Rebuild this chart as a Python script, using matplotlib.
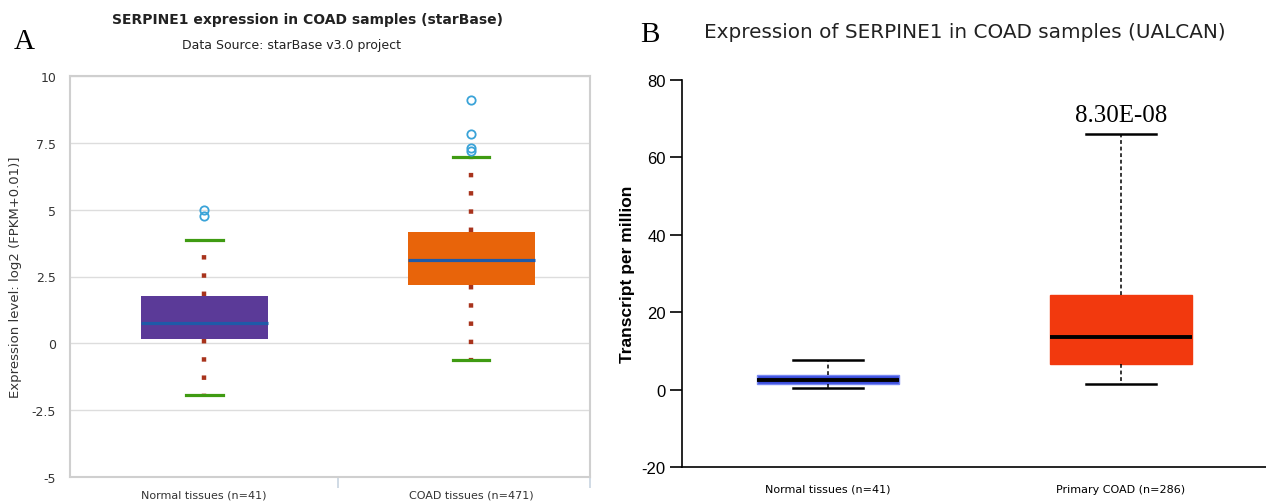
import matplotlib.pyplot as plt

plt.rcParams["axes.unicode_minus"] = False

# panel A: starBase, log2(FPKM+0.01)
a_labels = ["Normal tissues (n=41)", "COAD tissues (n=471)"]
a_q1 = [0.17, 2.19]
a_med = [0.75, 3.1]
a_q3 = [1.76, 4.18]
a_lo = [-1.93, -0.62]
a_hi = [3.88, 6.97]
a_out = [[4.77, 4.98], [7.2, 7.3, 7.84, 9.1]]
a_yticks = [-5, -2.5, 0, 2.5, 5, 7.5, 10]

# panel B: UALCAN, transcripts per million
b_labels = ["Normal tissues (n=41)", "Primary COAD (n=286)"]
b_q1 = [1.55, 6.7]
b_med = [2.6, 13.7]
b_q3 = [3.9, 24.5]
b_lo = [0.45, 1.4]
b_hi = [7.6, 65.9]
b_pval = "8.30E-08"
b_yticks = [-20, 0, 20, 40, 60, 80]


def make_stats(q1, med, q3, lo, hi, out=None):
    st = []
    for i in range(len(med)):
        st.append(dict(q1=q1[i], med=med[i], q3=q3[i], whislo=lo[i], whishi=hi[i],
                       fliers=out[i] if out else []))
    return st


W, H = 1266, 502
fig = plt.figure(figsize=(W / 100, H / 100), dpi=100)

# ---------------- A ----------------
axA = fig.add_axes([70 / W, 1 - 478 / H, 520 / W, 401 / H])
bp = axA.bxp(make_stats(a_q1, a_med, a_q3, a_lo, a_hi, a_out), positions=[0, 1],
             widths=0.476, capwidths=0.1375, patch_artist=True,
             boxprops=dict(linewidth=0),
             whiskerprops=dict(color="#a8331c", linewidth=3.2, linestyle=(0, (1, 3.1))),
             capprops=dict(color="#3f9b12", linewidth=2.3),
             medianprops=dict(color="#1f5aa8", linewidth=2.3),
             flierprops=dict(marker="o", markerfacecolor="none", markeredgecolor="#3aa3d8",
                             markersize=6, markeredgewidth=1.3))
for box, c in zip(bp["boxes"], ["#5b3a98", "#e8640a"]):
    box.set_facecolor(c)
    box.set_edgecolor(c)
for w in bp["whiskers"]:
    w.set_dash_capstyle("butt")
axA.set_xlim(-0.503, 1.446)
axA.set_ylim(-5, 10)
axA.set_yticks(a_yticks)
axA.set_yticklabels(["-5", "-2.5", "0", "2.5", "5", "7.5", "10"])
axA.set_xticks([0, 1])
axA.set_xticklabels(a_labels)
axA.set_xticks([0.5, 1.446], minor=True)
axA.tick_params(axis="x", which="major", length=0, pad=9, labelsize=8, labelcolor="#333333")
axA.tick_params(axis="x", which="minor", length=8, color="#c8d4e0", width=1.2)
axA.tick_params(axis="y", length=0, pad=10, labelsize=9, labelcolor="#333333")
axA.grid(axis="y", color="#dddddd", linewidth=1)
axA.set_axisbelow(True)
for s in axA.spines.values():
    s.set_color("#cfcfcf")
    s.set_linewidth(1.5)
axA.set_ylabel("Expression level: log2 (FPKM+0.01)]", fontsize=9.5, color="#333333", labelpad=7)

fig.text(307 / W, 1 - 20 / H, "SERPINE1 expression in COAD samples (starBase)",
         ha="center", va="center", fontsize=10, fontweight="bold", color="#222222")
fig.text(292 / W, 1 - 46 / H, "Data Source: starBase v3.0 project",
         ha="center", va="center", fontsize=9, color="#222222")
fig.text(24 / W, 1 - 42 / H, "A", ha="center", va="center", fontsize=21,
         family="Liberation Serif")

# ---------------- B ----------------
axB = fig.add_axes([681.7 / W, 1 - 468.3 / H, (W - 681.7) / W, 387.6 / H])
bp2 = axB.bxp(make_stats(b_q1, b_med, b_q3, b_lo, b_hi), positions=[0, 1],
              widths=0.485, capwidths=0.24, patch_artist=True, showfliers=False,
              whiskerprops=dict(color="black", linewidth=1.1, linestyle=(0, (2.5, 1.8))),
              capprops=dict(color="black", linewidth=1.8),
              medianprops=dict(color="black", linewidth=2.8))
bp2["boxes"][0].set_facecolor("#3b4ddb")
bp2["boxes"][0].set_edgecolor("#7788f2")
bp2["boxes"][0].set_linewidth(1)
bp2["boxes"][1].set_facecolor("#f2390e")
bp2["boxes"][1].set_edgecolor("#f2390e")
axB.annotate(b_pval, xy=(1, b_hi[1]), xytext=(0, 6), textcoords="offset points",
             ha="center", va="bottom", fontsize=18, family="Liberation Serif")
axB.set_xlim(-0.5, 1.495)
axB.set_ylim(-20, 80)
axB.set_yticks(b_yticks)
axB.set_xticks([0, 1])
axB.set_xticklabels(b_labels)
axB.tick_params(axis="x", length=0, pad=12, labelsize=8)
axB.tick_params(axis="y", length=8.5, width=1.2, pad=3, labelsize=12)
for lab in axB.get_yticklabels():
    lab.set_family("Liberation Sans")
axB.spines["top"].set_visible(False)
axB.spines["right"].set_visible(False)
axB.spines["left"].set_linewidth(1.2)
axB.spines["bottom"].set_linewidth(1.2)
axB.set_ylabel("Transcript per million", fontsize=12.5, fontweight="bold",
               family="Liberation Sans", labelpad=5)

fig.text(965 / W, 1 - 33 / H, "Expression of SERPINE1 in COAD samples (UALCAN)",
         ha="center", va="center", fontsize=14.4, color="#222222")
fig.text(650 / W, 1 - 35 / H, "B", ha="center", va="center", fontsize=21,
         family="Liberation Serif")

fig.savefig("out.png", dpi=100)
